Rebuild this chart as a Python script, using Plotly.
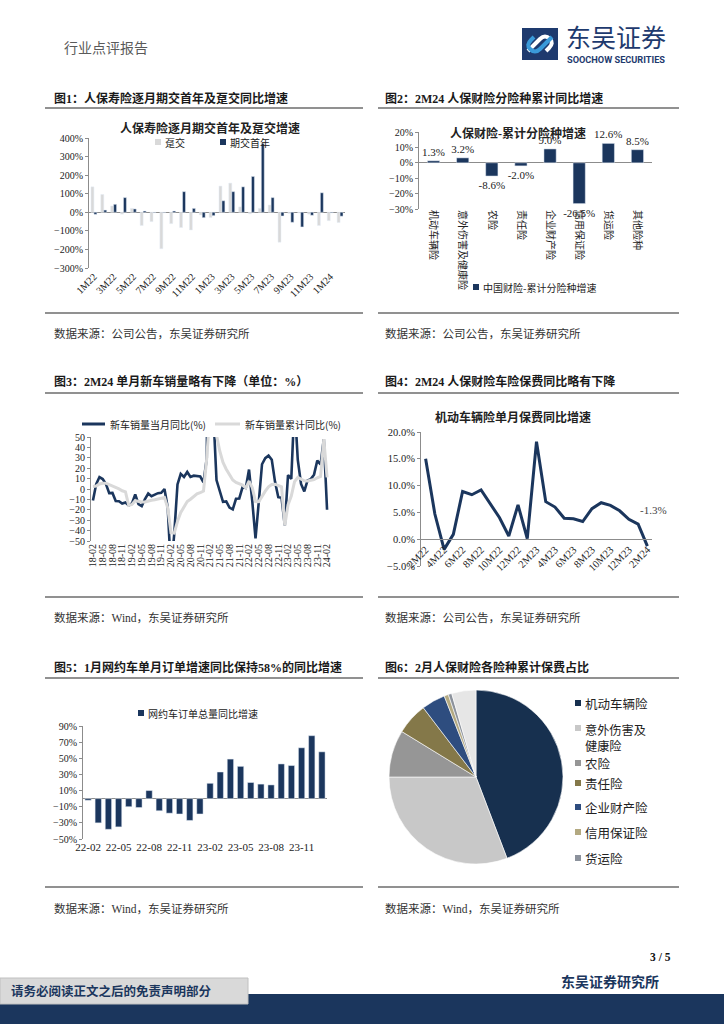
import plotly.graph_objects as go

W, H = 724, 1024
def X(px): return px / W
def Y(py): return 1 - py / H

SERIF = "Liberation Serif, Noto Sans CJK SC, serif"
CJK = "Noto Sans CJK SC, Liberation Serif, sans-serif"
NAVY = "#1b365d"
LGRAY = "#d9d9d9"
AX = "#8c8c8c"
TXT = "#222222"

# ---------------- data ----------------
# Chart 1: 人保寿险逐月期交首年及趸交增速 (%)
c1_months = ['1M22', '2M22', '3M22', '4M22', '5M22', '6M22', '7M22', '8M22', '9M22', '10M22', '11M22', '12M22',
             '1M23', '2M23', '3M23', '4M23', '5M23', '6M23', '7M23', '8M23', '9M23', '10M23', '11M23', '12M23',
             '1M24', '2M24']
c1_dunjiao = [137, 96, 34, -10, 21, -71, -50, -196, -61, -82, -95, -14,
              -28, 141, 157, 29, -8, 21, 39, -161, -6, -4, -10, -71, -45, -55]
c1_qijiao = [-11, 12, 43, 79, 18, 7, -2, -2, 7, 111, 21, -29,
             -18, 62, 111, 137, 193, 370, 79, -20, -54, -79, -16, 105, -3, -21]
c1_ticks = ['1M22', '3M22', '5M22', '7M22', '9M22', '11M22', '1M23', '3M23', '5M23', '7M23', '9M23', '11M23', '1M24']

# Chart 2: 人保财险-累计分险种增速 (%)
c2_cats = ['机动车辆险', '意外伤害及健康险', '农险', '责任险', '企业财产险', '信用保证险', '货运险', '其他险种']
c2_vals = [1.3, 3.2, -8.6, -2.0, 9.0, -26.5, 12.6, 8.5]

# Chart 3: 新车销量同比 (%)
c3_months = []
for yy in range(18, 25):
    for mm in range(1, 13):
        lab = f"{yy:02d}-{mm:02d}"
        if (yy == 18 and mm < 2) or (yy == 24 and mm > 2):
            continue
        c3_months.append(lab)
c3_monthly = [-11.1, 4.7, 11.5, 9.6, 4.8, -4.0, -3.8, -11.6, -11.7, -13.9, -13.0,
              -15.8, -13.8, -5.2, -14.6, -16.4, -9.6, -4.3, -6.9, -5.2, -4.0, -3.6, 0.0,
              -18.0, -79.1, -43.3, 4.4, 14.5, 11.6, 16.4, 11.6, 12.8, 12.5, 12.0, 6.4,
              29.5, 364.6, 74.9, 8.6, -3.1, -12.4, -11.9, -17.8, -19.6, -9.4, -9.1, 1.6,
              0.9, 18.7, -11.7, -47.6, -12.6, 23.8, 29.7, 32.1, 28.1, 6.9, -7.9, -8.4,
              -35.0, 13.5, 9.7, 82.7, 27.9, 4.8, -2.3, 8.2, 9.5, 13.8, 27.4, 23.5,
              47.9, -19.9]
c3_cum = [2.5, 2.8, 4.8, 5.6, 5.6, 4.2, 3.5, 1.5, 0.1, -1.7, -2.8,
          -15.8, -14.9, -11.3, -12.1, -12.4, -12.4, -11.4, -10.9, -10.3, -9.7, -9.1, -8.2,
          -18.0, -42.0, -42.4, -31.1, -22.6, -16.9, -12.1, -9.8, -6.9, -4.7, -3.6, -1.9,
          29.5, 76.3, 75.6, 51.8, 36.6, 25.6, 19.0, 13.7, 8.7, 6.3, 4.9, 3.8,
          0.9, 7.5, 1.3, -12.1, -12.2, -6.6, -2.1, 2.1, 4.4, 4.6, 3.2, 2.1,
          -35.0, -15.2, -6.7, 7.1, 11.1, 9.8, 7.9, 7.8, 8.2, 9.1, 10.8, 12.0,
          47.9, 11.1]
c3_ticks = c3_months[::3]

# Chart 4: 机动车辆险单月保费同比增速 (%)
c4_months = ['2M22', '3M22', '4M22', '5M22', '6M22', '7M22', '8M22', '9M22', '10M22', '11M22', '12M22',
             '1M23', '2M23', '3M23', '4M23', '5M23', '6M23', '7M23', '8M23', '9M23', '10M23', '11M23', '12M23',
             '1M24', '2M24']
c4_vals = [15.0, 4.7, -1.9, 0.9, 8.9, 8.3, 9.2, 6.5, 4.0, 0.6, 6.4,
           0.1, 18.2, 7.0, 6.0, 3.9, 3.8, 3.3, 5.7, 6.8, 6.3, 5.3, 3.7,
           2.8, -1.3]
c4_ticks = c4_months[::2]

# Chart 5: 网约车订单总量同比增速 (%)
c5_months = ['22-02', '22-03', '22-04', '22-05', '22-06', '22-07', '22-08', '22-09', '22-10', '22-11', '22-12',
             '23-01', '23-02', '23-03', '23-04', '23-05', '23-06', '23-07', '23-08', '23-09', '23-10', '23-11', '23-12',
             '24-01']
c5_vals = [-2, -30, -38, -35, -10, -11, 10, -15, -18, -19, -27,
           -19, 19, 33, 49, 40, 20, 18, 17, 43, 41, 63, 78, 58]
c5_ticks = ['22-02', '22-05', '22-08', '22-11', '23-02', '23-05', '23-08', '23-11']

# Chart 6: 2月人保财险各险种累计保费占比 (%)
c6_labels = ['机动车辆险', '意外伤害及健康险', '农险', '责任险', '企业财产险', '信用保证险', '货运险', '其他']
c6_vals = [44.2, 30.8, 8.75, 5.9, 4.4, 0.8, 0.65, 4.5]
c6_colors = ['#17304f', '#c8c8c8', '#969696', '#847849', '#2e4d7f', '#b3a981', '#8c929c', '#e6e6e6']
c6_legend = ['机动车辆险', '意外伤害及<br>健康险', '农险', '责任险', '企业财产险', '信用保证险', '货运险']

# ---------------- figure ----------------
fig = go.Figure()

fig.add_trace(go.Bar(x=c1_months, y=c1_dunjiao, name='趸交', marker_color=LGRAY, width=0.3, offset=-0.3,
                     xaxis='x', yaxis='y'))
fig.add_trace(go.Bar(x=c1_months, y=c1_qijiao, name='期交首年', marker_color=NAVY, width=0.3, offset=0.0,
                     xaxis='x', yaxis='y'))

fig.add_trace(go.Bar(x=c2_cats, y=c2_vals, name='中国财险-累计分险种增速', marker_color=NAVY, width=0.42,
                     text=[f"{v:.1f}%" for v in c2_vals], textposition='outside', constraintext='none',
                     textfont=dict(family=SERIF, size=11, color=TXT), cliponaxis=False,
                     xaxis='x2', yaxis='y2'))

fig.add_trace(go.Scatter(x=c3_months, y=c3_monthly, mode='lines', name='新车销量当月同比(%)',
                         line=dict(color=NAVY, width=2.6), xaxis='x3', yaxis='y3'))
fig.add_trace(go.Scatter(x=c3_months, y=c3_cum, mode='lines', name='新车销量累计同比(%)',
                         line=dict(color=LGRAY, width=3), xaxis='x3', yaxis='y3'))

fig.add_trace(go.Scatter(x=c4_months, y=c4_vals, mode='lines', name='机动车辆险单月保费同比增速',
                         line=dict(color=NAVY, width=3), xaxis='x4', yaxis='y4'))

fig.add_trace(go.Bar(x=c5_months, y=c5_vals, name='网约车订单总量同比增速', marker_color=NAVY, width=0.62,
                     xaxis='x5', yaxis='y5'))

fig.add_trace(go.Pie(labels=c6_labels, values=c6_vals, sort=False, direction='clockwise', rotation=0,
                     marker=dict(colors=c6_colors, line=dict(color='white', width=0.6)),
                     textinfo='none', hoverinfo='label+percent', automargin=False,
                     domain=dict(x=[X(389), X(563)], y=[Y(864), Y(690)])))

tickf = dict(family=SERIF, size=10, color=TXT)

def yax(y0, y1, x0, rng, dtick, **kw):
    d = dict(domain=[Y(y1), Y(y0)], range=rng, dtick=dtick, showline=True, linecolor=AX, linewidth=1,
             ticks='outside', ticklen=3, tickcolor=AX, showgrid=False, zeroline=False,
             tickfont=tickf, fixedrange=True, automargin=False)
    d.update(kw)
    return d

def xax(x0, x1, **kw):
    d = dict(domain=[X(x0), X(x1)], showgrid=False, zeroline=False, showline=False, ticks='',
             tickfont=tickf, fixedrange=True, automargin=False)
    d.update(kw)
    return d

layout = dict(
    width=W, height=H, autosize=False,
    margin=dict(l=0, r=0, t=0, b=0, pad=0, autoexpand=False),
    paper_bgcolor='white', plot_bgcolor='rgba(0,0,0,0)', showlegend=False,
    barmode='group',
    font=dict(family=CJK, size=11, color=TXT),
    xaxis=xax(89, 345, type='category', tickmode='array', tickvals=c1_ticks, tickangle=-45,
              range=[-0.5, len(c1_months) - 0.5], anchor='y'),
    yaxis=yax(138, 268, 89, [-300, 400], 100, ticksuffix='%', zeroline=True, zerolinecolor=AX,
              zerolinewidth=1, anchor='x'),
    xaxis2=xax(419, 652, type='category', tickangle=90, tickfont=dict(family=CJK, size=10, color=TXT),
               range=[-0.5, len(c2_cats) - 0.5], anchor='y2'),
    yaxis2=yax(132, 209, 419, [-30, 20], 10, ticksuffix='%', zeroline=True, zerolinecolor=AX,
               zerolinewidth=1, anchor='x2'),
    xaxis3=xax(91, 329, type='category', tickmode='array', tickvals=c3_ticks, tickangle=-90,
               range=[-0.6, len(c3_months) - 0.4], anchor='y3'),
    yaxis3=yax(437, 541, 91, [-50, 50], 10, anchor='x3'),
    xaxis4=xax(421, 652, type='category', tickmode='array', tickvals=c4_ticks, tickangle=-45,
               range=[-0.5, len(c4_months) - 0.5], showline=True, linecolor=AX, linewidth=1,
               anchor='free', position=Y(538.6), tickfont=dict(family=SERIF, size=10.5, color=TXT)),
    yaxis4=yax(432, 566, 421, [-5, 20], 5, tickformat='.1f', ticksuffix='%', anchor='x4',
               tickfont=dict(family=SERIF, size=10.5, color=TXT)),
    xaxis5=xax(83, 327, type='category', tickmode='array', tickvals=c5_ticks, tickangle=0,
               range=[-0.5, len(c5_months) - 0.5], anchor='y5', tickfont=dict(family=SERIF, size=11, color=TXT)),
    yaxis5=yax(726, 839, 83, [-50, 90], 20, tick0=-50, ticksuffix='%', zeroline=True, zerolinecolor=AX,
               zerolinewidth=1, anchor='x5'),
)
fig.update_layout(**layout)

shapes = []
ann = []

def text(px, py, s, size=12, color=TXT, family=CJK, xanchor='left', yanchor='middle', bold=False):
    if bold:
        s = f"<b>{s}</b>"
    ann.append(dict(x=X(px), y=Y(py), xref='paper', yref='paper', text=s, showarrow=False,
                    xanchor=xanchor, yanchor=yanchor, font=dict(family=family, size=size, color=color)))

def rect(x0, y0, x1, y1, fill, line=None):
    shapes.append(dict(type='rect', xref='paper', yref='paper', x0=X(x0), x1=X(x1), y0=Y(y1), y1=Y(y0),
                       fillcolor=fill, line=dict(width=0 if line is None else 1, color=line or fill), layer='above'))

def hline(x0, x1, y, color, width):
    shapes.append(dict(type='line', xref='paper', yref='paper', x0=X(x0), x1=X(x1), y0=Y(y), y1=Y(y),
                       line=dict(color=color, width=width)))

def box_legend(px, py, color, s, size=10, sq=6):
    rect(px, py - sq / 2, px + sq, py + sq / 2, color)
    text(px + sq + 2, py, s, size=size)

# page header
text(62, 47, '行业点评报告', size=14, color='#5a5a5a')
# logo
rect(522, 28, 558, 60, '#1e3a6e')
path1 = f"M {X(528)},{Y(51)} L {X(540)},{Y(39)} Q {X(545)},{Y(34)} {X(550)},{Y(39)} Q {X(554)},{Y(43)} {X(549)},{Y(48)} L {X(546)},{Y(51)}"
path2 = f"M {X(552)},{Y(37)} L {X(540)},{Y(49)} Q {X(535)},{Y(54)} {X(530)},{Y(49)} Q {X(526)},{Y(45)} {X(531)},{Y(40)} L {X(534)},{Y(37)}"
shapes.append(dict(type='path', xref='paper', yref='paper', path=path1, line=dict(color='white', width=4)))
shapes.append(dict(type='path', xref='paper', yref='paper', path=path2, line=dict(color='#3a9ad9', width=4)))
text(564, 36, '东吴证券', size=25, color='#1e3a6e')
text(565, 59.5, '<b>SOOCHOW SECURITIES</b>', size=9.2, color='#1e3a6e', family='Roboto, DejaVu Sans, sans-serif')

# section headers, rules, sources
headers = [
    (52, 98, '图1：人保寿险逐月期交首年及趸交同比增速'),
    (383, 98, '图2：2M24 人保财险分险种累计同比增速'),
    (52, 381, '图3：2M24 单月新车销量略有下降（单位：%）'),
    (383, 381, '图4：2M24 人保财险车险保费同比略有下降'),
    (52, 667, '图5：1月网约车单月订单增速同比保持58%的同比增速'),
    (383, 667, '图6：2月人保财险各险种累计保费占比'),
]
for hx, hy, hs in headers:
    text(hx, hy, hs, size=12, color='#1a1a1a', family=SERIF, bold=True)

for top, bot in [(108, 313), (393, 597), (678, 887)]:
    hline(45, 363, top, '#6d6d6d', 1.6)
    hline(378, 679, top, '#6d6d6d', 1.6)
    hline(45, 363, bot, '#6d6d6d', 1.6)
    hline(378, 679, bot, '#6d6d6d', 1.6)

sources = [
    (52, 333, '数据来源：公司公告，东吴证券研究所'),
    (383, 333, '数据来源：公司公告，东吴证券研究所'),
    (52, 617, '数据来源：Wind，东吴证券研究所'),
    (383, 617, '数据来源：公司公告，东吴证券研究所'),
    (52, 908, '数据来源：Wind，东吴证券研究所'),
    (383, 908, '数据来源：Wind，东吴证券研究所'),
]
for sx, sy, ss in sources:
    text(sx, sy, ss, size=11.5, color='#333333', family=SERIF)

# chart titles
text(210, 128, '人保寿险逐月期交首年及趸交增速', size=12, family=SERIF, xanchor='center', bold=True)
text(518, 133, '人保财险-累计分险种增速', size=12, family=SERIF, xanchor='center', bold=True)
text(513, 417, '机动车辆险单月保费同比增速', size=12, family=SERIF, xanchor='center', bold=True)

# legends
box_legend(155, 142, LGRAY, '趸交')
box_legend(220, 142, NAVY, '期交首年')
box_legend(473, 287, NAVY, '中国财险-累计分险种增速')
box_legend(138, 713, NAVY, '网约车订单总量同比增速')
hline(82, 105, 424, NAVY, 3)
text(108, 424, '新车销量当月同比(%)', size=10)
hline(215, 240, 424, LGRAY, 3)
text(243, 424, '新车销量累计同比(%)', size=10)

leg_y = [703, 728, 763, 783, 807, 832, 858]
for lab, col, ly in zip(c6_legend, c6_colors, leg_y):
    if '<br>' in lab:
        rect(575, ly - 3, 581, ly + 3, col)
        ann.append(dict(x=X(583), y=Y(ly - 9.5), xref='paper', yref='paper', text=lab, showarrow=False,
                        xanchor='left', yanchor='top', align='left',
                        font=dict(family=CJK, size=12.2, color=TXT)))
    else:
        box_legend(575, ly, col, lab, size=12.5)

# chart 4 last value label
ann.append(dict(x=c4_months[-1], y=c4_vals[-1], xref='x4', yref='y4', text=f"{c4_vals[-1]:.1f}%",
                showarrow=False, xshift=6, yshift=36, font=dict(family=SERIF, size=11, color='#444')))

# footer
text(673, 957, '3 / 5', size=11.5, family=SERIF, xanchor='right', bold=True, color='#111')
text(661, 982, '东吴证券研究所', size=14, family=SERIF, xanchor='right', bold=True, color=NAVY)
rect(0, 994, 724, 1024, NAVY)
rect(0, 978, 248, 1004, '#d9d9d9', line='#c0c0c0')
text(9, 991, '请务必阅读正文之后的免责声明部分', size=12.5, family=SERIF, bold=True, color=NAVY)

fig.update_layout(shapes=shapes, annotations=ann)

fig.write_html("out.html", config=dict(displayModeBar=False),
               post_script="document.body.style.margin='0';document.body.style.overflow='hidden';")
